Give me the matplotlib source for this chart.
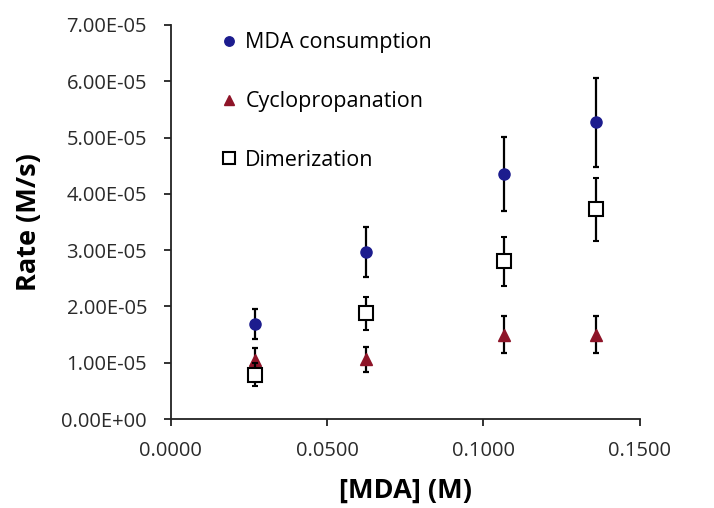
import matplotlib
matplotlib.use("Agg")
import matplotlib.pyplot as plt
from matplotlib.ticker import FixedLocator, FuncFormatter

plt.rcParams['font.family'] = ['Open Sans', 'DejaVu Sans']

# [MDA] concentrations (M)
mda_conc = [0.0269, 0.0626, 0.1065, 0.1359]

# Rates (M/s) with standard deviations
mda_consumption = [1.69e-5, 2.97e-5, 4.35e-5, 5.27e-5]
mda_consumption_err = [0.26e-5, 0.44e-5, 0.66e-5, 0.79e-5]

cyclopropanation = [1.05e-5, 1.06e-5, 1.50e-5, 1.50e-5]
cyclopropanation_err = [0.22e-5, 0.22e-5, 0.33e-5, 0.33e-5]

dimerization = [0.79e-5, 1.88e-5, 2.80e-5, 3.73e-5]
dimerization_err = [0.20e-5, 0.29e-5, 0.43e-5, 0.56e-5]

series_labels = ["MDA consumption", "Cyclopropanation", "Dimerization"]
x_ticks = [0.0, 0.05, 0.10, 0.15]
y_ticks = [0, 1e-5, 2e-5, 3e-5, 4e-5, 5e-5, 6e-5, 7e-5]

fig = plt.figure(figsize=(7.14, 5.08), dpi=100)
ax = fig.add_axes([0.239, 0.175, 0.657, 0.776])

err_kw = dict(ecolor='black', elinewidth=1.6, capsize=2, capthick=1.6, linestyle='none')

h1 = ax.errorbar(mda_conc, mda_consumption, yerr=mda_consumption_err, marker='o',
                 markersize=8, color='#1c1c8e', markeredgecolor='#1c1c8e', zorder=3, **err_kw)
h2 = ax.errorbar(mda_conc, cyclopropanation, yerr=cyclopropanation_err, marker='^',
                 markersize=8, color='#8e1428', markeredgecolor='#8e1428', zorder=3, **err_kw)
h3 = ax.errorbar(mda_conc, dimerization, yerr=dimerization_err, marker='s',
                 markersize=10, color='black', markerfacecolor='white',
                 markeredgecolor='black', markeredgewidth=1.5, zorder=4, **err_kw)

ax.set_xlim(0, 0.15)
ax.set_ylim(0, 7e-5)
ax.xaxis.set_major_locator(FixedLocator(x_ticks))
ax.yaxis.set_major_locator(FixedLocator(y_ticks))
ax.xaxis.set_major_formatter(FuncFormatter(lambda v, p: f"{v:.4f}"))
ax.yaxis.set_major_formatter(FuncFormatter(lambda v, p: f"{v:.2E}"))

for side in ('top', 'right'):
    ax.spines[side].set_visible(False)
for side in ('left', 'bottom'):
    ax.spines[side].set_linewidth(1.3)
    ax.spines[side].set_color('#222222')

ax.tick_params(axis='both', direction='out', length=5, width=1.3,
               labelsize=14.5, colors='#222222', labelcolor='#2a2a2a')
ax.tick_params(axis='x', pad=11)
ax.tick_params(axis='y', pad=12)

ax.set_xlabel("[MDA] (M)", fontsize=19.5, fontweight='bold', labelpad=12)
ax.set_ylabel("Rate (M/s)", fontsize=19.5, fontweight='bold', labelpad=14)

leg = ax.legend([h1[0], h2[0], h3[0]], series_labels, loc='upper left',
                bbox_to_anchor=(0.065, 1.03), frameon=False, fontsize=15.5,
                labelspacing=1.75, handlelength=0.8, handletextpad=0.35,
                markerscale=0.85)

fig.savefig("out.png", dpi=100)
